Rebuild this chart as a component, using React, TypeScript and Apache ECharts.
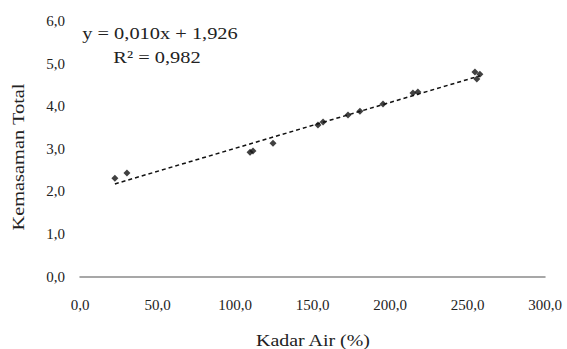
import React, { useEffect, useRef } from "react";
import * as echarts from "echarts";

const kadarAir: number[] = [22.5, 30.3, 109.7, 111.6, 124.5, 153.5, 156.8, 172.9, 180.6, 195.5, 214.8, 218.0, 254.8, 258.0, 256.0];
const kemasaman: number[] = [2.31, 2.43, 2.92, 2.95, 3.13, 3.56, 3.63, 3.79, 3.88, 4.05, 4.31, 4.33, 4.80, 4.75, 4.64];
const equationText = "y = 0,010x + 1,926";
const r2Text = "R² = 0,982";
const xTitle = "Kadar Air (%)";
const yTitle = "Kemasaman Total";

const fmt = (v: number) => v.toFixed(1).replace(".", ",");

export default function App() {
  const ref = useRef<HTMLDivElement>(null);
  useEffect(() => {
    document.body.style.margin = "0";
    if (!ref.current) return;
    const chart = echarts.init(ref.current, null, { renderer: "svg" });
    const n = kadarAir.length;
    const mx = kadarAir.reduce((a, b) => a + b, 0) / n;
    const my = kemasaman.reduce((a, b) => a + b, 0) / n;
    let sxy = 0, sxx = 0;
    for (let i = 0; i < n; i++) {
      sxy += (kadarAir[i] - mx) * (kemasaman[i] - my);
      sxx += (kadarAir[i] - mx) ** 2;
    }
    const slope = sxy / sxx;
    const intercept = my - slope * mx;
    const xMin = Math.min(...kadarAir);
    const xMax = Math.max(...kadarAir);
    const font = "'Liberation Serif', 'DejaVu Serif', serif";
    const textColor = "#222";
    chart.setOption({
      animation: false,
      backgroundColor: "#ffffff",
      grid: { left: 80, right: 22, top: 21, bottom: 72.5, outerBoundsMode: "none", containLabel: false },
      xAxis: {
        type: "value",
        min: 0,
        max: 300,
        interval: 50,
        axisLine: { show: true, lineStyle: { color: "#8a8a8a", width: 1.5 } },
        axisTick: { show: false },
        splitLine: { show: false },
        axisLabel: { formatter: fmt, fontFamily: font, fontSize: 15, color: textColor, margin: 21 },
      },
      yAxis: {
        type: "value",
        min: 0,
        max: 6,
        interval: 1,
        axisLine: { show: false },
        axisTick: { show: false },
        splitLine: { show: false },
        axisLabel: { formatter: fmt, fontFamily: font, fontSize: 15, color: textColor, margin: 15 },
      },
      series: [
        {
          type: "line",
          data: [
            [xMin, intercept + slope * xMin],
            [xMax, intercept + slope * xMax],
          ],
          symbol: "none",
          lineStyle: { color: "#111", width: 1.5, type: [4, 3] },
          silent: true,
        },
        {
          type: "scatter",
          data: kadarAir.map((x, i) => [x, kemasaman[i]]),
          symbol: "diamond",
          symbolSize: 7,
          itemStyle: { color: "#111" },
        },
      ],
      graphic: [
        {
          type: "text",
          x: 160,
          y: 33,
          scaleX: 1.2,
          style: { text: equationText, fontFamily: font, fontSize: 17, fill: textColor, textAlign: "center", textVerticalAlign: "middle" },
        },
        {
          type: "text",
          x: 157,
          y: 57,
          scaleX: 1.2,
          style: { text: r2Text, fontFamily: font, fontSize: 17, fill: textColor, textAlign: "center", textVerticalAlign: "middle" },
        },
        {
          type: "text",
          x: 313,
          y: 340,
          scaleX: 1.17,
          style: { text: xTitle, fontFamily: font, fontSize: 17, fill: textColor, textAlign: "center", textVerticalAlign: "middle" },
        },
        {
          type: "text",
          x: 18,
          y: 157,
          rotation: Math.PI / 2,
          scaleX: 1.2,
          style: { text: yTitle, fontFamily: font, fontSize: 17, fill: textColor, textAlign: "center", textVerticalAlign: "middle" },
        },
      ],
    });
    return () => chart.dispose();
  }, []);
  return <div ref={ref} style={{ width: 567, height: 349 }} />;
}
